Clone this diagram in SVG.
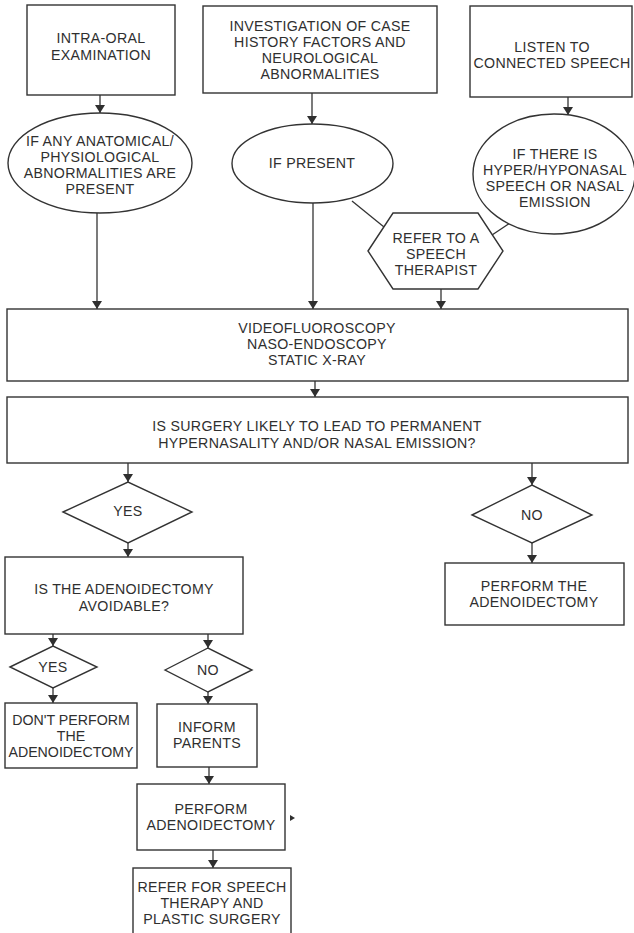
<svg xmlns="http://www.w3.org/2000/svg" width="634" height="933" viewBox="0 0 634 933">
<defs>
<style>
.n{fill:#fff;stroke:#333;stroke-width:1.4}
.t{font-family:"Liberation Sans",Arial,sans-serif;font-size:14.2px;letter-spacing:0.3px;fill:#2f2f2f;text-anchor:middle;dominant-baseline:central}
.s{letter-spacing:0}
.c{stroke:#333;stroke-width:1.3;fill:none}
</style>
<marker id="arr" markerUnits="userSpaceOnUse" markerWidth="8" markerHeight="10" viewBox="0 0 8 10" refX="8" refY="5" orient="auto">
<path d="M0,0 L8,5 L0,10 z" fill="#2f2f2f"/>
</marker>
</defs>
<rect width="634" height="933" fill="#fff"/>
<g id="connectors">
<line class="c" x1="100" y1="95" x2="100" y2="113" marker-end="url(#arr)"/>
<line class="c" x1="312" y1="93" x2="312" y2="124" marker-end="url(#arr)"/>
<line class="c" x1="568" y1="97" x2="568" y2="115" marker-end="url(#arr)"/>
<line class="c" x1="97" y1="213" x2="97" y2="309" marker-end="url(#arr)"/>
<line class="c" x1="313" y1="203" x2="313" y2="309" marker-end="url(#arr)"/>
<line class="c" x1="352" y1="201" x2="384" y2="227"/>
<line class="c" x1="510" y1="223" x2="492" y2="235"/>
<line class="c" x1="441" y1="289" x2="441" y2="309" marker-end="url(#arr)"/>
<line class="c" x1="315" y1="381" x2="315" y2="397" marker-end="url(#arr)"/>
<line class="c" x1="128" y1="463" x2="128" y2="482" marker-end="url(#arr)"/>
<line class="c" x1="532" y1="463" x2="532" y2="485" marker-end="url(#arr)"/>
<line class="c" x1="128" y1="543" x2="128" y2="557" marker-end="url(#arr)"/>
<line class="c" x1="532" y1="543" x2="532" y2="563" marker-end="url(#arr)"/>
<line class="c" x1="53" y1="634" x2="53" y2="646" marker-end="url(#arr)"/>
<line class="c" x1="208" y1="634" x2="208" y2="648" marker-end="url(#arr)"/>
<line class="c" x1="53" y1="688" x2="53" y2="703" marker-end="url(#arr)"/>
<line class="c" x1="208" y1="692" x2="208" y2="704" marker-end="url(#arr)"/>
<line class="c" x1="209" y1="767" x2="209" y2="784" marker-end="url(#arr)"/>
<line class="c" x1="213" y1="850" x2="213" y2="868" marker-end="url(#arr)"/>
<path d="M290,815 L295,818 L290,821 z" fill="#2f2f2f"/>
</g>
<g id="intra-oral">
<rect class="n" x="27" y="5" width="148" height="90"/>
<text class="t" x="101" y="38">INTRA-ORAL</text>
<text class="t" x="101" y="55">EXAMINATION</text>
</g>
<g id="investigation">
<rect class="n" x="203" y="6" width="234" height="87"/>
<text class="t" x="320" y="26">INVESTIGATION OF CASE</text>
<text class="t" x="320" y="42">HISTORY FACTORS AND</text>
<text class="t" x="320" y="58">NEUROLOGICAL</text>
<text class="t" x="320" y="74">ABNORMALITIES</text>
</g>
<g id="listen">
<rect class="n" x="470" y="6" width="162" height="91"/>
<text class="t" x="552" y="47">LISTEN TO</text>
<text class="t" x="552" y="63">CONNECTED SPEECH</text>
</g>
<g id="if-anatomical">
<ellipse class="n" cx="100" cy="163" rx="92" ry="50"/>
<text class="t" x="100" y="141">IF ANY ANATOMICAL/</text>
<text class="t" x="100" y="157">PHYSIOLOGICAL</text>
<text class="t" x="100" y="173">ABNORMALITIES ARE</text>
<text class="t" x="100" y="189">PRESENT</text>
</g>
<g id="if-present">
<ellipse class="n" cx="312.5" cy="163.5" rx="80.5" ry="39.5"/>
<text class="t" x="312" y="163">IF PRESENT</text>
</g>
<g id="if-nasal">
<ellipse class="n" cx="554" cy="174" rx="81" ry="60"/>
<text class="t" x="555" y="154">IF THERE IS</text>
<text class="t" x="555" y="170">HYPER/HYPONASAL</text>
<text class="t" x="555" y="186">SPEECH OR NASAL</text>
<text class="t" x="555" y="202">EMISSION</text>
</g>
<g id="refer-therapist">
<polygon class="n" points="368,251 393,213 478,213 503,251 478,289 393,289"/>
<text class="t" x="436" y="238">REFER TO A</text>
<text class="t" x="436" y="254">SPEECH</text>
<text class="t" x="436" y="270">THERAPIST</text>
</g>
<g id="imaging">
<rect class="n" x="7" y="309" width="621" height="72"/>
<text class="t" x="317" y="328">VIDEOFLUOROSCOPY</text>
<text class="t" x="317" y="344">NASO-ENDOSCOPY</text>
<text class="t" x="317" y="360">STATIC X-RAY</text>
</g>
<g id="surgery-question">
<rect class="n" x="7" y="397" width="621" height="66"/>
<text class="t" x="317" y="426">IS SURGERY LIKELY TO LEAD TO PERMANENT</text>
<text class="t" x="317" y="443">HYPERNASALITY AND/OR NASAL EMISSION?</text>
</g>
<g id="yes1">
<polygon class="n" points="63,512 128,482 192,512 128,543"/>
<text class="t" x="128" y="511">YES</text>
</g>
<g id="no1">
<polygon class="n" points="472,515 532,485 592,515 532,543"/>
<text class="t" x="532" y="515">NO</text>
</g>
<g id="avoidable">
<rect class="n" x="5" y="557" width="238" height="77"/>
<text class="t" x="124" y="589">IS THE ADENOIDECTOMY</text>
<text class="t" x="124" y="606">AVOIDABLE?</text>
</g>
<g id="perform-the">
<rect class="n" x="445" y="563" width="179" height="62"/>
<text class="t" x="534" y="586">PERFORM THE</text>
<text class="t" x="534" y="602">ADENOIDECTOMY</text>
</g>
<g id="yes2">
<polygon class="n" points="10,667 53,646 97,667 53,688"/>
<text class="t" x="53" y="667">YES</text>
</g>
<g id="no2">
<polygon class="n" points="165,670 208,648 252,670 208,692"/>
<text class="t" x="208" y="670">NO</text>
</g>
<g id="dont-perform">
<rect class="n" x="5" y="703" width="132" height="65"/>
<text class="t s" x="71" y="720">DON'T PERFORM</text>
<text class="t s" x="71" y="736">THE</text>
<text class="t s" x="71" y="752">ADENOIDECTOMY</text>
</g>
<g id="inform-parents">
<rect class="n" x="157" y="704" width="100" height="63"/>
<text class="t" x="207" y="727">INFORM</text>
<text class="t" x="207" y="743">PARENTS</text>
</g>
<g id="perform-adenoidectomy">
<rect class="n" x="137" y="784" width="148" height="66"/>
<text class="t" x="211" y="809">PERFORM</text>
<text class="t" x="211" y="825">ADENOIDECTOMY</text>
</g>
<g id="refer-speech">
<rect class="n" x="133" y="868" width="158" height="80"/>
<text class="t" x="212" y="887">REFER FOR SPEECH</text>
<text class="t" x="212" y="903">THERAPY AND</text>
<text class="t" x="212" y="919">PLASTIC SURGERY</text>
</g>
</svg>
